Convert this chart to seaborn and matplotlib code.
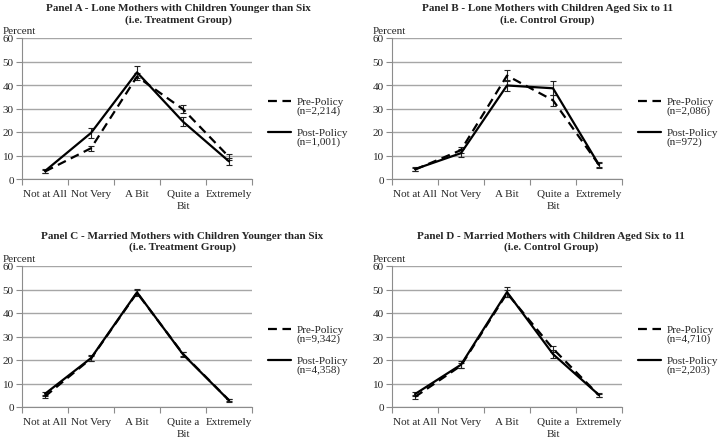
import numpy as np
import pandas as pd
import matplotlib
matplotlib.use('Agg')
import matplotlib.pyplot as plt
import seaborn as sns

# Категории ответа
categories = ['Not at All', 'Not Very', 'A Bit', 'Quite a\nBit', 'Extremely']

# Panel A
a_pre = [3.2, 13.1, 43.6, 29.7, 9.4]
a_pre_err = [0.8, 1.1, 1.6, 1.7, 1.3]
a_post = [3.4, 19.6, 45.4, 24.4, 7.5]
a_post_err = [0.9, 2.2, 2.5, 2.0, 1.6]

# Panel B
b_pre = [4.0, 12.3, 44.0, 33.5, 6.0]
b_pre_err = [0.8, 1.2, 2.3, 2.4, 1.0]
b_post = [4.2, 11.0, 39.8, 38.6, 6.0]
b_post_err = [1.0, 1.6, 2.5, 2.9, 1.2]

# Panel C
c_pre = [4.5, 20.6, 48.6, 22.6, 2.9]
c_pre_err = [0.6, 0.9, 1.1, 0.9, 0.4]
c_post = [5.6, 20.8, 48.8, 22.4, 2.8]
c_post_err = [0.8, 1.2, 1.5, 1.2, 0.5]

# Panel D
d_pre = [4.3, 17.6, 48.4, 24.8, 5.0]
d_pre_err = [0.7, 1.1, 1.5, 1.3, 0.7]
d_post = [5.5, 18.0, 48.9, 22.5, 5.1]
d_post_err = [1.0, 1.5, 2.0, 1.7, 1.0]

titles = [
    'Panel A - Lone Mothers with Children Younger than Six\n(i.e. Treatment Group)',
    'Panel B - Lone Mothers with Children Aged Six to 11\n(i.e. Control Group)',
    'Panel C - Married Mothers with Children Younger than Six\n(i.e. Treatment Group)',
    'Panel D - Married Mothers with Children Aged Six to 11\n(i.e. Control Group)',
]
n_pre = ['2,214', '2,086', '9,342', '4,710']
n_post = ['1,001', '972', '4,358', '2,203']

panels = [
    (a_pre, a_pre_err, a_post, a_post_err),
    (b_pre, b_pre_err, b_post, b_post_err),
    (c_pre, c_pre_err, c_post, c_post_err),
    (d_pre, d_pre_err, d_post, d_post_err),
]

sns.set_style('white')
plt.rcParams['font.family'] = ['Liberation Serif', 'DejaVu Serif']
plt.rcParams['font.size'] = 8

fig = plt.figure(figsize=(7.22, 4.39), dpi=100)
axes_pos = [
    [22 / 722, 259 / 439, 230 / 722, 141 / 439],
    [392 / 722, 259 / 439, 230 / 722, 141 / 439],
    [22 / 722, 31 / 439, 230 / 722, 141 / 439],
    [392 / 722, 31 / 439, 230 / 722, 141 / 439],
]
title_xy = [(0.247, 0.99), (0.758, 0.99), (0.252, 0.472), (0.763, 0.472)]

grid_col = '#a6a6a6'
axis_col = '#8c8c8c'
x = np.arange(len(categories))

for i, (pre, pre_err, post, post_err) in enumerate(panels):
    ax = fig.add_axes(axes_pos[i])
    lab_pre = f'Pre-Policy\n(n={n_pre[i]})'
    lab_post = f'Post-Policy\n(n={n_post[i]})'
    df = pd.DataFrame({
        'pos': np.concatenate([x, x]),
        'value': pre + post,
        'group': [lab_pre] * 5 + [lab_post] * 5,
    })

    # Планки погрешностей
    ax.errorbar(x, pre, yerr=pre_err, fmt='none', ecolor='#222222',
                elinewidth=0.8, capsize=2, capthick=0.8, zorder=3)
    ax.errorbar(x, post, yerr=post_err, fmt='none', ecolor='#222222',
                elinewidth=0.8, capsize=2, capthick=0.8, zorder=3)

    sns.lineplot(data=df, x='pos', y='value', style='group', ax=ax,
                 color='black', linewidth=1.6,
                 dashes={lab_pre: (4, 2.5), lab_post: ''}, zorder=4)

    ax.set_xlim(-0.5, 4.5)
    ax.set_ylim(0, 60)
    ax.set_yticks(range(0, 61, 10))
    ax.set_xticks(np.arange(-0.5, 5, 1))
    ax.set_xticklabels([])
    ax.set_xticks(x, categories, minor=True)
    ax.tick_params(axis='x', which='major', direction='out', length=4,
                   color=axis_col, width=0.8, bottom=True)
    ax.tick_params(axis='x', which='minor', length=0, pad=7, labelsize=8)
    ax.tick_params(axis='y', direction='out', length=4, color=axis_col,
                   width=0.8, left=True, pad=2, labelsize=8)
    for t in ax.get_xticklabels(minor=True):
        t.set_linespacing(1.4)
    ax.grid(axis='y', color=grid_col, linewidth=1.0)
    ax.set_axisbelow(True)
    for s in ['top', 'right']:
        ax.spines[s].set_visible(False)
    for s in ['left', 'bottom']:
        ax.spines[s].set_color(axis_col)
        ax.spines[s].set_linewidth(0.8)
    ax.set_xlabel('')
    ax.set_ylabel('Percent', rotation=0, ha='left', va='baseline', fontsize=8)
    ax.yaxis.set_label_coords(-0.083, 1.037)

    leg = ax.legend(loc='upper left', bbox_to_anchor=(1.07, 0.58),
                    frameon=False, fontsize=8, handlelength=2.1,
                    handletextpad=0.5, labelspacing=1.1,
                    borderpad=0, borderaxespad=0)
    for t in leg.get_texts():
        t.set_linespacing(0.95)
    for col in leg._legend_handle_box.get_children():
        for row in col.get_children():
            row.align = 'top'

    fig.text(title_xy[i][0], title_xy[i][1], titles[i], ha='center', va='top',
             fontsize=8, fontweight='bold', linespacing=1.25)

plt.savefig('out.png', dpi=100)
plt.close()
